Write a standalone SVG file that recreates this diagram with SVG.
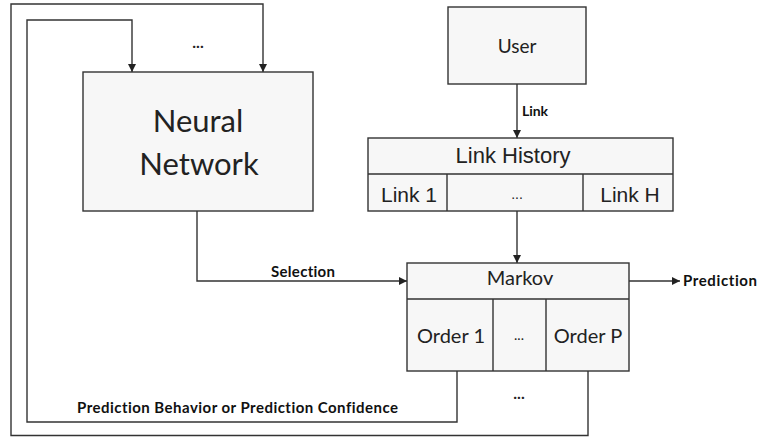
<svg xmlns="http://www.w3.org/2000/svg" width="758" height="437" viewBox="0 0 758 437">
<style>
.box{fill:#f7f7f7;stroke:#333;stroke-width:1.4}
.ln{fill:none;stroke:#333;stroke-width:1.4}
.cal{font-family:Lato,"Open Sans",sans-serif;fill:#222;font-variant-ligatures:none}
.ar{font-family:"Liberation Sans",Arial,sans-serif;fill:#222}
.lbl{font-family:Lato,"Open Sans",sans-serif;font-weight:bold;font-size:15px;fill:#111;font-variant-ligatures:none}
</style>
<defs>
<marker id="ah" viewBox="0 0 10 10" refX="10" refY="5" markerWidth="8" markerHeight="8" markerUnits="userSpaceOnUse" orient="auto">
<path d="M0,0 L10,5 L0,10 z" fill="#222"/>
</marker>
</defs>
<rect width="758" height="437" fill="#fff"/>
<g id="connectors">
<path class="ln" d="M588,371 V435.5 H11 V4 H263 V72" marker-end="url(#ah)"/>
<path class="ln" d="M457,371 V422 H27 V20 H132 V72" marker-end="url(#ah)"/>
<path class="ln" d="M197,211 V281 H407" marker-end="url(#ah)"/>
<path class="ln" d="M517,84 V138" marker-end="url(#ah)"/>
<path class="ln" d="M517,211 V263" marker-end="url(#ah)"/>
<path class="ln" d="M629,281 H680" marker-end="url(#ah)"/>
<text class="lbl" x="522" y="116" font-size="14" style="font-size:14px" textLength="26">Link</text>
<text class="lbl" x="271" y="277" textLength="64">Selection</text>
<text class="lbl" x="683" y="286" textLength="74">Prediction</text>
<text class="lbl" x="77" y="413" textLength="321">Prediction Behavior or Prediction Confidence</text>
<text class="cal" x="198" y="48" text-anchor="middle" font-size="16" font-weight="bold">...</text>
<text class="cal" x="519" y="399" text-anchor="middle" font-size="16" font-weight="bold">...</text>
</g>
<g id="neural-network">
<rect class="box" x="83" y="72" width="230" height="139"/>
<text class="cal" x="198" y="132" text-anchor="middle" font-size="31">Neural</text>
<text class="cal" x="199" y="175" text-anchor="middle" font-size="31">Network</text>
</g>
<g id="user">
<rect class="box" x="448" y="7" width="138" height="77"/>
<text class="cal" x="517" y="53" text-anchor="middle" font-size="19">User</text>
</g>
<g id="link-history">
<rect class="box" x="368" y="138" width="305" height="73"/>
<path class="ln" d="M368,174 H673 M447,174 V211 M583,174 V211"/>
<text class="ar" x="513" y="163" text-anchor="middle" font-size="22">Link History</text>
<text class="ar" x="409" y="202" text-anchor="middle" font-size="21">Link 1</text>
<text class="ar" x="517" y="199" text-anchor="middle" font-size="14" fill="#333">...</text>
<text class="ar" x="630" y="202" text-anchor="middle" font-size="21">Link H</text>
</g>
<g id="markov">
<rect class="box" x="407" y="263" width="222" height="108"/>
<path class="ln" d="M407,299 H629 M493,299 V371 M546,299 V371"/>
<text class="cal" x="520" y="285" text-anchor="middle" font-size="20">Markov</text>
<text class="cal" x="451" y="343" text-anchor="middle" font-size="20">Order 1</text>
<text class="cal" x="519" y="340" text-anchor="middle" font-size="14">...</text>
<text class="cal" x="588" y="343" text-anchor="middle" font-size="20">Order P</text>
</g>
</svg>
